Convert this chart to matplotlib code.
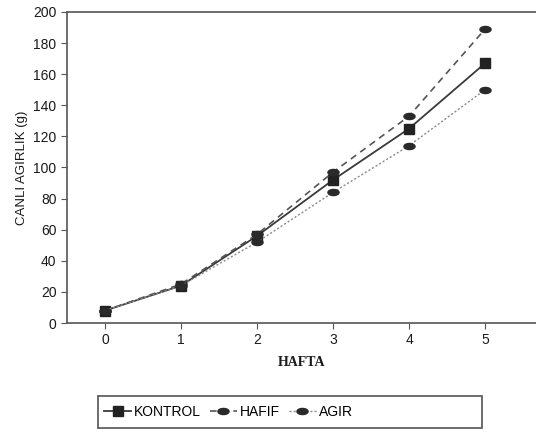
import numpy as np
import matplotlib
matplotlib.use("Agg")
import matplotlib.pyplot as plt
from matplotlib.path import Path
from matplotlib.patches import Rectangle

hafta = [0, 1, 2, 3, 4, 5]
kontrol = [8, 24, 56, 92, 125, 167]
hafif = [8, 25, 57, 97, 133, 189]
agir = [8, 24, 52, 84, 114, 150]

# flat ellipse marker
t = np.linspace(0, 2 * np.pi, 40)
ellipse = Path(np.column_stack([np.cos(t), 0.55 * np.sin(t)]), closed=True)

plt.rcParams['font.family'] = ['Liberation Sans', 'DejaVu Sans']

fig = plt.figure(figsize=(5.36, 4.32), dpi=100)
ax = fig.add_axes([0.125, 0.2523, 0.875, 0.72])

ax.plot(hafta, kontrol, color='#3a3a3a', lw=1.3, marker='s', ms=6.5,
        mfc='#222222', mec='#222222', label='KONTROL')
ax.plot(hafta, hafif, color='#555555', lw=1.2, ls=(0, (4, 3)), marker=ellipse,
        ms=8, mfc='#2a2a2a', mec='#2a2a2a', label='HAFIF')
ax.plot(hafta, agir, color='#8a8a8a', lw=1.0, ls=(0, (1.5, 1.5)), marker=ellipse,
        ms=8, mfc='#2a2a2a', mec='#2a2a2a', label='AGIR')

ax.set_xlim(-0.5, 5.67)
ax.set_ylim(0, 200)
ax.set_yticks(range(0, 201, 20))
ax.set_xticks(hafta)
ax.spines['right'].set_visible(False)
for s in ['left', 'top', 'bottom']:
    ax.spines[s].set_color('#555555')
    ax.spines[s].set_linewidth(1.2)
ax.tick_params(labelsize=10, length=4, color='#555555', labelcolor='#1a1a1a')

ax.set_xlabel('HAFTA', family='Liberation Serif', fontweight='bold', fontsize=10,
              color='#1a1a1a', labelpad=6)
ax.set_ylabel('CANLI AGIRLIK (g)', fontsize=9.5, color='#1a1a1a', labelpad=4)

fig.add_artist(Rectangle((0.183, 0.009), 0.716, 0.074, transform=fig.transFigure,
                         fill=False, ec='#555555', lw=1.2))
fig.legend(loc='center left', bbox_to_anchor=(0.183, 0.046), ncol=3, frameon=False,
           fontsize=10, handlelength=2.0, handletextpad=0.2, columnspacing=0.6,
           borderaxespad=0)

fig.savefig('out.png', dpi=100)
